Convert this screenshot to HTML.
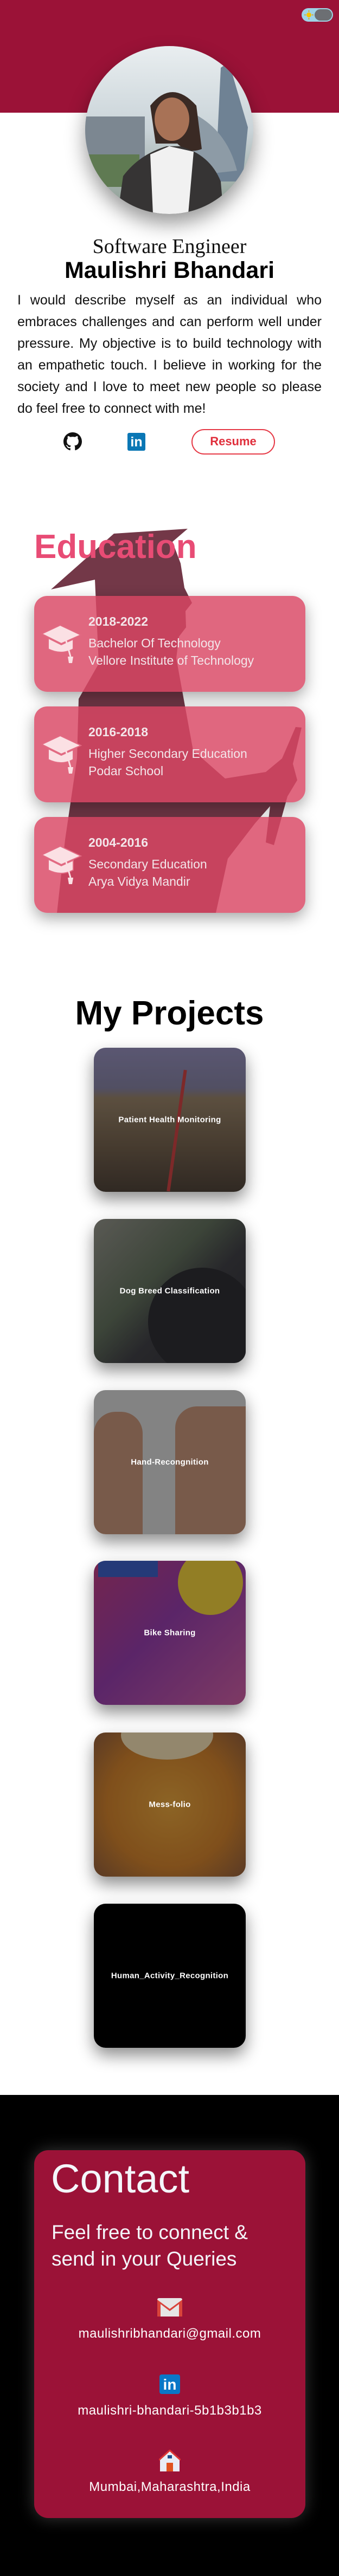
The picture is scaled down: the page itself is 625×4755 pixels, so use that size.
<!DOCTYPE html>
<html><head><meta charset="utf-8"><style>
*{margin:0;padding:0;box-sizing:border-box}
html,body{width:625px;height:4755px;overflow:hidden;background:#fff;font-family:"Liberation Sans",Arial,sans-serif}
.abs{position:absolute}
#header{left:0;top:0;width:625px;height:208px;background:#9b1237}
.para{left:32px;top:534px;width:561px;font-size:25px;line-height:40px;text-align:justify;color:#111}
.edu-card{left:63px;width:500px;height:177px;border-radius:24px;background:rgba(217,70,99,0.82);box-shadow:0 10px 28px rgba(0,0,0,0.35);color:#f3e6ea}
.edu-year{position:absolute;left:100px;top:32px;font-size:23px;font-weight:bold;line-height:31px}
.edu-line{position:absolute;left:100px;font-size:23px;line-height:31px}
.proj{left:173px;width:280px;height:266px;border-radius:22px;overflow:hidden;box-shadow:0 14px 30px rgba(0,0,0,0.45)}
.proj .ov{position:absolute;inset:0;background:rgba(0,0,0,0.35)}
.proj .t{position:absolute;left:0;right:0;top:50%;transform:translateY(-50%);text-align:center;color:#fff;font-weight:bold;font-size:15px;letter-spacing:0.3px}
.cline{left:63px;width:500px;text-align:center;color:#fff;font-size:24px;letter-spacing:0.5px}
</style></head><body>
<div class="abs" id="header"></div>
<div class="abs" style="left:556px;top:15px;width:58px;height:25px;border-radius:13px;background:#9fd3e6;">
  <div class="abs" style="right:2px;top:2px;width:32px;height:21px;border-radius:11px;background:#6c6f73"></div>
  <svg class="abs" style="left:5px;top:4px" width="17" height="17" viewBox="0 0 17 17"><circle cx="8.5" cy="8.5" r="4.5" fill="#f5c400"/><g stroke="#e8a000" stroke-width="1.5"><line x1="8.5" y1="0" x2="8.5" y2="3"/><line x1="8.5" y1="14" x2="8.5" y2="17"/><line x1="0" y1="8.5" x2="3" y2="8.5"/><line x1="14" y1="8.5" x2="17" y2="8.5"/></g></svg>
</div>

<svg class="abs" style="left:157px;top:85px;filter:drop-shadow(0 18px 18px rgba(0,0,0,0.4))" width="310" height="310" viewBox="0 0 310 310">
  <defs><clipPath id="cc"><circle cx="155" cy="155" r="155"/></clipPath>
  <linearGradient id="sky" x1="0" y1="0" x2="0" y2="1"><stop offset="0" stop-color="#e9eef0"/><stop offset="0.5" stop-color="#c9d3d8"/><stop offset="1" stop-color="#8a9a8e"/></linearGradient></defs>
  <g clip-path="url(#cc)">
    <rect width="310" height="310" fill="url(#sky)"/>
    <rect x="0" y="130" width="110" height="100" fill="#7c8791"/>
    <rect x="0" y="200" width="100" height="60" fill="#5f7a52"/>
    <path d="M250 40 L265 30 L300 150 L290 250 L240 250 Z" fill="#6f8294"/>
    <path d="M190 120 Q260 150 280 230 L190 240 Z" fill="#8d9ba6"/>
    <path d="M120 110 Q160 60 205 110 L215 190 Q190 200 170 180 L130 180 Z" fill="#3a2a24"/>
    <ellipse cx="160" cy="135" rx="32" ry="40" fill="#a87256"/>
    <path d="M60 310 L70 240 Q100 200 150 185 L175 185 Q230 200 250 250 L255 310 Z" fill="#363434"/>
    <path d="M120 200 L155 185 L200 195 L190 310 L125 310 Z" fill="#f1f1f1"/>
  </g>
</svg>

<div class="abs" style="left:0;width:625px;top:433px;text-align:center;font-family:'Liberation Serif',serif;font-size:38px;line-height:44px;color:#111">Software Engineer</div>
<div class="abs" style="left:0;width:625px;top:474px;text-align:center;font-size:43px;font-weight:bold;line-height:50px;color:#000">Maulishri Bhandari</div>
<div class="abs para">I would describe myself as an individual who embraces challenges and can perform well under pressure. My objective is to build technology with an empathetic touch. I believe in working for the society and I love to meet new people so please do feel free to connect with me!</div>

<svg class="abs" style="left:117px;top:798px" width="34" height="34" viewBox="0 0 16 16"><path fill="#111" d="M8 0C3.58 0 0 3.58 0 8c0 3.54 2.29 6.53 5.47 7.59.4.07.55-.17.55-.38 0-.19-.01-.82-.01-1.49-2.01.37-2.53-.49-2.69-.94-.09-.23-.48-.94-.82-1.13-.28-.15-.68-.52-.01-.53.63-.01 1.08.58 1.23.82.72 1.21 1.87.87 2.33.66.07-.52.28-.87.51-1.07-1.78-.2-3.64-.89-3.64-3.95 0-.87.31-1.59.82-2.15-.08-.2-.36-1.02.08-2.12 0 0 .67-.21 2.2.82.64-.18 1.32-.27 2-.27.68 0 1.36.09 2 .27 1.53-1.04 2.2-.82 2.2-.82.44 1.1.16 1.92.08 2.12.51.56.82 1.27.82 2.15 0 3.07-1.87 3.75-3.65 3.95.29.25.54.73.54 1.48 0 1.07-.01 1.93-.01 2.2 0 .21.15.46.55.38A8.013 8.013 0 0016 8c0-4.42-3.58-8-8-8z"/></svg>
<div class="abs" style="left:235px;top:799px;width:33px;height:33px;background:#0a77b5;border-radius:3px;color:#fff;font-weight:bold;font-size:25px;line-height:35px;text-align:center">in</div>
<div class="abs" style="left:353px;top:792px;width:154px;height:47px;border:2.5px solid #e63946;border-radius:24px;color:#e02f3c;font-weight:bold;font-size:22px;line-height:42px;text-align:center">Resume</div>

<svg class="abs" style="left:0;top:960px" width="625" height="740" viewBox="0 960 625 740">
  <path fill="#733848" d="M94 1088 L210 985 L346 976 L318 1000 L333 1040 L340 1085 L354 1113 L342 1128 L343 1158 L330 1175 L325 1215 L335 1270 L356 1385 L415 1437 L490 1425 L520 1400 L545 1342 L556 1343 L540 1410 L548 1440 L530 1470 L505 1560 L490 1555 L498 1488 L470 1520 L420 1585 L398 1685 L105 1685 L120 1550 L142 1400 L145 1290 L182 1225 L175 1070 Z"/>
</svg>
<div class="abs" style="left:63px;top:975px;font-size:62px;font-weight:bold;color:#e84c75;line-height:70px">Education</div>

<div class="abs edu-card" style="top:1100px">
  <svg class="abs" style="left:12px;top:52px" width="76" height="74" viewBox="0 0 76 74"><g fill="#fbe0e4" stroke="#e26b83" stroke-width="2"><path d="M2 18 L36 2 L74 20 L38 36 Z"/><path d="M14 26 L14 46 Q38 58 60 46 L60 28 L38 38 Z"/></g><line x1="45" y1="24" x2="55" y2="60" stroke="#fbe0e4" stroke-width="3"/><path d="M50 60 L60 60 L58 72 L52 72 Z" fill="#fbe0e4"/></svg>
  <div class="edu-year">2018-2022</div>
  <div class="edu-line" style="top:72px">Bachelor Of Technology</div>
  <div class="edu-line" style="top:104px">Vellore Institute of Technology</div>
</div>
<div class="abs edu-card" style="top:1304px">
  <svg class="abs" style="left:12px;top:52px" width="76" height="74" viewBox="0 0 76 74"><g fill="#fbe0e4" stroke="#e26b83" stroke-width="2"><path d="M2 18 L36 2 L74 20 L38 36 Z"/><path d="M14 26 L14 46 Q38 58 60 46 L60 28 L38 38 Z"/></g><line x1="45" y1="24" x2="55" y2="60" stroke="#fbe0e4" stroke-width="3"/><path d="M50 60 L60 60 L58 72 L52 72 Z" fill="#fbe0e4"/></svg>
  <div class="edu-year">2016-2018</div>
  <div class="edu-line" style="top:72px">Higher Secondary Education</div>
  <div class="edu-line" style="top:104px">Podar School</div>
</div>
<div class="abs edu-card" style="top:1508px">
  <svg class="abs" style="left:12px;top:52px" width="76" height="74" viewBox="0 0 76 74"><g fill="#fbe0e4" stroke="#e26b83" stroke-width="2"><path d="M2 18 L36 2 L74 20 L38 36 Z"/><path d="M14 26 L14 46 Q38 58 60 46 L60 28 L38 38 Z"/></g><line x1="45" y1="24" x2="55" y2="60" stroke="#fbe0e4" stroke-width="3"/><path d="M50 60 L60 60 L58 72 L52 72 Z" fill="#fbe0e4"/></svg>
  <div class="edu-year">2004-2016</div>
  <div class="edu-line" style="top:72px">Secondary Education</div>
  <div class="edu-line" style="top:104px">Arya Vidya Mandir</div>
</div>

<div class="abs" style="left:0;width:625px;top:1836px;text-align:center;font-size:62px;font-weight:bold;color:#000;line-height:70px">My Projects</div>

<div class="abs proj" style="top:1934px;background:linear-gradient(180deg,#8b86b0 0%,#7d7a98 28%,#8d7a62 35%,#6b5a48 70%,#4a3f36 100%)">
  <div class="abs" style="left:150px;top:40px;width:6px;height:226px;background:#c04040;transform:rotate(8deg)"></div>
  <div class="ov"></div><div class="t">Patient Health Monitoring</div></div>
<div class="abs proj" style="top:2250px;background:linear-gradient(135deg,#8a8a82 0%,#5d6a58 40%,#3d3d42 60%,#2e2e33 100%)">
  <div class="abs" style="left:100px;top:90px;width:200px;height:200px;border-radius:50%;background:#2b2b30"></div>
  <div class="ov"></div><div class="t">Dog Breed Classification</div></div>
<div class="abs proj" style="top:2566px;background:#c9c9c9">
  <div class="abs" style="left:0;top:40px;width:90px;height:226px;border-radius:40px 40px 0 0;background:#b98a72"></div>
  <div class="abs" style="left:150px;top:30px;width:130px;height:236px;border-radius:40px 0 0 0;background:#b98a72"></div>
  <div class="ov"></div><div class="t">Hand-Recongnition</div></div>
<div class="abs proj" style="top:2881px;background:linear-gradient(135deg,#b23a78 0%,#8c3aa0 45%,#c25a9a 100%)">
  <div class="abs" style="left:155px;top:-20px;width:120px;height:120px;border-radius:50%;background:#e0c23a"></div>
  <div class="abs" style="left:8px;top:0;width:110px;height:30px;background:#3a5ab8"></div>
  <div class="ov"></div><div class="t">Bike Sharing</div></div>
<div class="abs proj" style="top:3198px;background:radial-gradient(circle at 50% 50%,#d89a3a 0%,#c47a2a 60%,#8a5a3a 100%)">
  <div class="abs" style="left:50px;top:-40px;width:170px;height:90px;border-radius:50%;background:#e2cfa8"></div>
  <div class="ov"></div><div class="t">Mess-folio</div></div>
<div class="abs proj" style="top:3514px;background:#000"><div class="t">Human_Activity_Recognition</div></div>

<div class="abs" style="left:0;top:3867px;width:625px;height:888px;background:#000"></div>
<div class="abs" style="left:63px;top:3969px;width:500px;height:679px;border-radius:26px;background:#9b1237;box-shadow:0 0 30px rgba(200,200,200,0.28)"></div>
<div class="abs" style="left:94px;top:3980px;font-size:74px;color:#f4f6fb;line-height:84px">Contact</div>
<div class="abs" style="left:95px;top:4096px;width:420px;font-size:37px;color:#f4f6fb;line-height:49px">Feel free to connect &amp; send in your Queries</div>
<svg class="abs" style="left:290px;top:4242px" width="46" height="34" viewBox="0 0 46 34"><rect width="46" height="34" rx="3" fill="#e6e6e6"/><path d="M0 3 L23 20 L46 3 L46 34 L40 34 L40 11 L23 24 L6 11 L6 34 L0 34 Z" fill="#d9443b"/></svg>
<div class="abs cline" style="top:4292px;line-height:32px">maulishribhandari@gmail.com</div>
<div class="abs" style="left:294px;top:4383px;width:38px;height:36px;border-radius:4px;background:#0a77c7;color:#fff;font-weight:bold;font-size:28px;line-height:38px;text-align:center">in</div>
<div class="abs cline" style="top:4434px;line-height:32px">maulishri-bhandari-5b1b3b1b3</div>
<svg class="abs" style="left:293px;top:4522px" width="40" height="40" viewBox="0 0 40 40"><path d="M2 18 L20 2 L38 18 L38 40 L2 40 Z" fill="#e9ecf5"/><path d="M0 19 L20 1 L40 19" stroke="#d33" stroke-width="3" fill="none"/><rect x="14" y="24" width="12" height="16" fill="#e0521f"/><rect x="16" y="10" width="8" height="6" fill="#1f4e8c"/></svg>
<div class="abs cline" style="top:4575px;line-height:32px">Mumbai,Maharashtra,India</div>
</body></html>
